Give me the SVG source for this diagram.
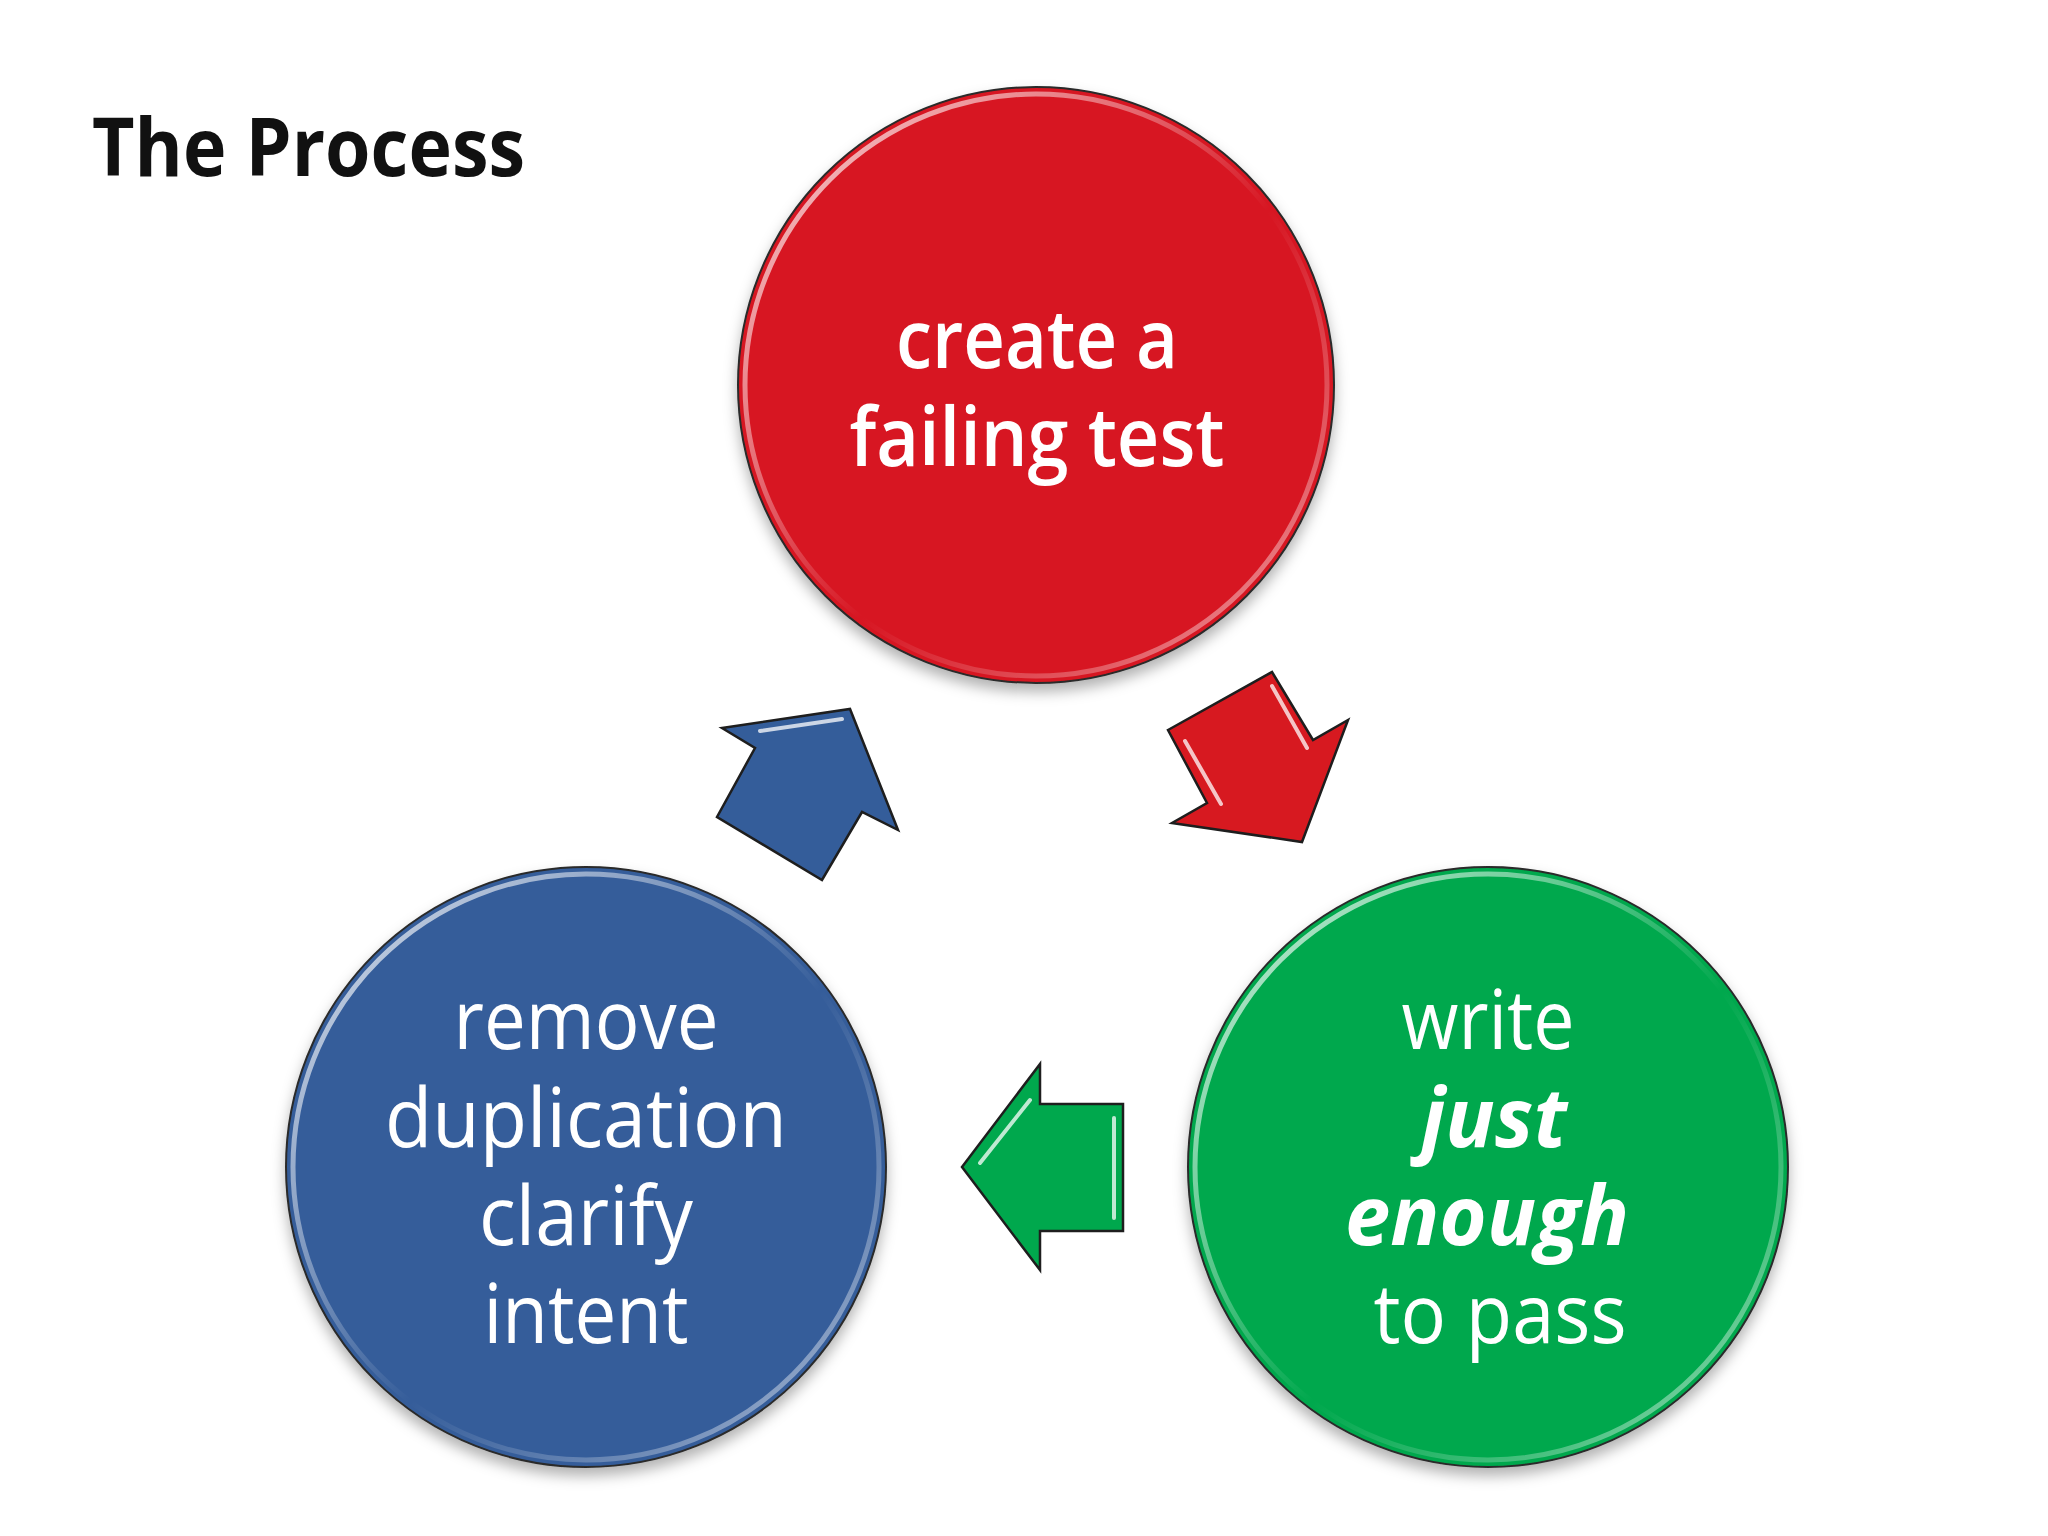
<svg xmlns="http://www.w3.org/2000/svg" width="2048" height="1536" viewBox="0 0 2048 1536">
<defs>
<style>
.title{font-family:"Open Sans","Liberation Sans",sans-serif;font-weight:700;font-size:80px;fill:#111}
.lbl{font-family:"Open Sans","Liberation Sans",sans-serif;font-size:82px;fill:#fff;text-anchor:middle}
.semi{font-weight:600}
.bi{font-weight:700;font-style:italic}
.disc{stroke:#2a2a2a;stroke-width:2}
.rim{fill:none;stroke:url(#rim);stroke-width:5}
.arrow{stroke:#1e1e1e;stroke-width:2.5;stroke-linejoin:miter}
.hl{stroke:#fff;stroke-width:4;stroke-linecap:round;opacity:0.75;fill:none}
</style>
<linearGradient id="rim" x1="0" y1="0" x2="1" y2="1">
<stop offset="0" stop-color="#fff" stop-opacity="0.85"/>
<stop offset="0.35" stop-color="#fff" stop-opacity="0.35"/>
<stop offset="0.55" stop-color="#fff" stop-opacity="0"/>
<stop offset="0.8" stop-color="#fff" stop-opacity="0.3"/>
<stop offset="1" stop-color="#fff" stop-opacity="0.7"/>
</linearGradient>
<filter id="shadow" x="-20%" y="-20%" width="140%" height="140%">
<feDropShadow dx="0" dy="8" stdDeviation="7" flood-color="#000" flood-opacity="0.3"/>
</filter>
</defs>
<rect width="2048" height="1536" fill="#fff"/>
<text class="title" x="92" y="176" textLength="433" lengthAdjust="spacingAndGlyphs">The Process</text>

<g id="node-create">
<circle class="disc" cx="1036" cy="385" r="298" fill="#D71920" filter="url(#shadow)"/>
<circle class="rim" cx="1036" cy="385" r="291"/>
<text class="lbl semi" x="1037" y="368" textLength="282" lengthAdjust="spacingAndGlyphs">create a</text>
<text class="lbl semi" x="1037" y="466" textLength="375" lengthAdjust="spacingAndGlyphs">failing test</text>
</g>

<g id="node-write">
<circle class="disc" cx="1488" cy="1167" r="300" fill="#00A84D" filter="url(#shadow)"/>
<circle class="rim" cx="1488" cy="1167" r="293"/>
<text class="lbl" x="1488" y="1049" textLength="173" lengthAdjust="spacingAndGlyphs">write</text>
<text class="lbl bi" x="1494" y="1147" textLength="146" lengthAdjust="spacingAndGlyphs">just</text>
<text class="lbl bi" x="1487" y="1245" textLength="284" lengthAdjust="spacingAndGlyphs">enough</text>
<text class="lbl" x="1500" y="1343" textLength="253" lengthAdjust="spacingAndGlyphs">to pass</text>
</g>

<g id="node-refactor">
<circle class="disc" cx="586" cy="1167" r="300" fill="#345D9A" filter="url(#shadow)"/>
<circle class="rim" cx="586" cy="1167" r="293"/>
<text class="lbl" x="586" y="1049" textLength="265" lengthAdjust="spacingAndGlyphs">remove</text>
<text class="lbl" x="586" y="1147" textLength="402" lengthAdjust="spacingAndGlyphs">duplication</text>
<text class="lbl" x="586" y="1245" textLength="214" lengthAdjust="spacingAndGlyphs">clarify</text>
<text class="lbl" x="586" y="1343" textLength="205" lengthAdjust="spacingAndGlyphs">intent</text>
</g>

<g id="connectors">
<g id="arrow-red">
<polygon class="arrow" fill="#D71920" points="1168,730 1272,672 1313,740 1348,720 1302,842 1172,823 1207,803"/>
<line class="hl" x1="1185" y1="741" x2="1221" y2="804"/>
<line class="hl" x1="1272" y1="686" x2="1307" y2="748"/>
</g>
<g id="arrow-green">
<polygon class="arrow" fill="#00A84D" points="962,1167 1040,1064 1040,1104 1123,1104 1123,1231 1040,1231 1040,1270"/>
<line class="hl" x1="1114" y1="1118" x2="1114" y2="1218"/>
<line class="hl" x1="980" y1="1163" x2="1030" y2="1100"/>
</g>
<g id="arrow-blue">
<polygon class="arrow" fill="#345D9A" points="722,728 850,709 898,830 862,812 822,880 717,817 755,748"/>
<line class="hl" x1="760" y1="731" x2="842" y2="719"/>
</g>
</g>
</svg>
